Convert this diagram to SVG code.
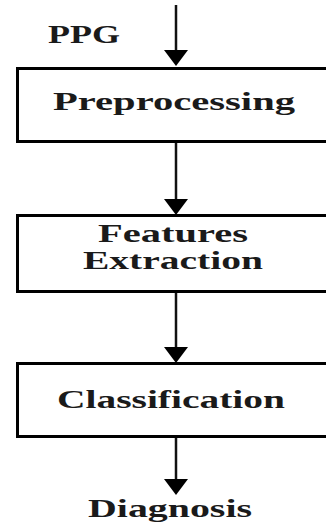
<svg xmlns="http://www.w3.org/2000/svg" width="326" height="527" viewBox="0 0 326 527">
<defs>
<marker id="ah" markerUnits="userSpaceOnUse" markerWidth="16" markerHeight="24" viewBox="0 0 16 24" refX="12" refY="12" orient="auto">
<path d="M0,0 L16,12 L0,24 Z" fill="#000"/>
</marker>
<style>
.box{fill:#fff;stroke:#000;stroke-width:3}
.t{font-family:"Liberation Serif","Times New Roman",serif;font-weight:bold;font-size:25px;fill:#1a1a1a}
.c{fill:none;stroke:#111;stroke-width:2.5;marker-end:url(#ah)}
</style>
</defs>
<rect width="326" height="527" fill="#fff"/>
<g id="connectors">
<line class="c" x1="176" y1="5" x2="176" y2="62"/>
<line class="c" x1="176" y1="142" x2="176" y2="211"/>
<line class="c" x1="176" y1="292" x2="176" y2="359"/>
<line class="c" x1="176" y1="437" x2="176" y2="491"/>
</g>
<g id="ppg">
<text class="t" x="48" y="43" textLength="72" lengthAdjust="spacingAndGlyphs">PPG</text>
</g>
<g id="preprocessing">
<rect class="box" x="17.5" y="68.5" width="330" height="73"/>
<text class="t" x="53" y="110" textLength="242" lengthAdjust="spacingAndGlyphs">Preprocessing</text>
</g>
<g id="features">
<rect class="box" x="17.5" y="215.5" width="330" height="76"/>
<text class="t" x="98" y="242" textLength="150" lengthAdjust="spacingAndGlyphs">Features</text>
<text class="t" x="83" y="269" textLength="180" lengthAdjust="spacingAndGlyphs">Extraction</text>
</g>
<g id="classification">
<rect class="box" x="17.5" y="363.5" width="330" height="73"/>
<text class="t" x="57" y="408" textLength="228" lengthAdjust="spacingAndGlyphs">Classification</text>
</g>
<g id="diagnosis">
<text class="t" x="88" y="517" textLength="164" lengthAdjust="spacingAndGlyphs">Diagnosis</text>
</g>
</svg>
